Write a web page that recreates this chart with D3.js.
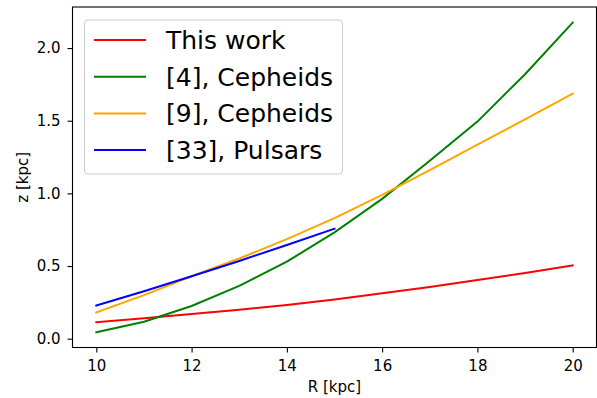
<!DOCTYPE html>
<html>
<head>
<meta charset="utf-8">
<script src="https://cdn.jsdelivr.net/npm/d3@7"></script>
<style>
  body { margin: 0; background: #fff; }
  text { font-family: "DejaVu Sans", sans-serif; fill: #000; }
</style>
</head>
<body>
<script>
// values
var R = [10, 11, 12, 13, 14, 15, 16, 17, 18, 19, 20];
var thisWork = [0.113, 0.140, 0.170, 0.200, 0.232, 0.270, 0.312, 0.355, 0.404, 0.452, 0.505];
var cepheids4 = [0.044, 0.117, 0.225, 0.363, 0.530, 0.732, 0.962, 1.225, 1.494, 1.820, 2.175];
var cepheids9 = [0.180, 0.300, 0.430, 0.552, 0.685, 0.830, 0.990, 1.160, 1.335, 1.510, 1.686];
var R33 = [10, 11, 12, 13, 14, 15];
var pulsars33 = [0.228, 0.327, 0.430, 0.535, 0.645, 0.757];

var xTicks = [10, 12, 14, 16, 18, 20];
var yTicks = [0.0, 0.5, 1.0, 1.5, 2.0];

var series = [
  {name: "This work", x: R, y: thisWork, color: "red"},
  {name: "[4], Cepheids", x: R, y: cepheids4, color: "green"},
  {name: "[9], Cepheids", x: R, y: cepheids9, color: "orange"},
  {name: "[33], Pulsars", x: R33, y: pulsars33, color: "blue"}
];

var W = 597, H = 398;
var margin = {top: 7, right: 0.5, bottom: 50.5, left: 72.5};

var svg = d3.select("body").append("svg")
    .attr("width", W)
    .attr("height", H);

var x = d3.scaleLinear()
    .domain([9.5, 20.5])
    .range([margin.left, W - margin.right]);

var y = d3.scaleLinear()
    .domain([-0.0606, 2.2825])
    .range([H - margin.bottom, margin.top]);

// lines
var line = d3.line()
    .x(function(d) { return x(d[0]); })
    .y(function(d) { return y(d[1]); });

svg.append("g").selectAll("path")
    .data(series)
    .enter().append("path")
      .attr("d", function(s) { return line(d3.zip(s.x, s.y)); })
      .attr("fill", "none")
      .attr("stroke", function(s) { return s.color; })
      .attr("stroke-width", 2)
      .attr("stroke-linejoin", "round")
      .attr("stroke-linecap", "square");

// axes
var xAxis = svg.append("g")
    .attr("transform", "translate(0," + (H - margin.bottom) + ")")
    .call(d3.axisBottom(x).tickValues(xTicks).tickSize(5).tickPadding(7.5).tickFormat(d3.format("d")));

var yAxis = svg.append("g")
    .attr("transform", "translate(" + margin.left + ",0)")
    .call(d3.axisLeft(y).tickValues(yTicks).tickSize(5).tickPadding(7).tickFormat(d3.format(".1f")));

[xAxis, yAxis].forEach(function(a) {
  a.select(".domain").remove();
  a.selectAll("line").attr("stroke", "#000").attr("stroke-width", 1.1);
  a.selectAll("text").style("font-size", "15px").style("font-family", "DejaVu Sans, sans-serif");
});

// frame
svg.append("rect")
    .attr("x", margin.left)
    .attr("y", margin.top)
    .attr("width", W - margin.right - margin.left)
    .attr("height", H - margin.bottom - margin.top)
    .attr("fill", "none")
    .attr("stroke", "#000")
    .attr("stroke-width", 1.1);

// axis labels
svg.append("text")
    .attr("x", (margin.left + W - margin.right) / 2)
    .attr("y", 391.5)
    .attr("text-anchor", "middle")
    .style("font-size", "15px")
    .text("R [kpc]");

svg.append("text")
    .attr("transform", "translate(27.5," + ((margin.top + H - margin.bottom) / 2) + ") rotate(-90)")
    .attr("text-anchor", "middle")
    .style("font-size", "15px")
    .text("z [kpc]");

// legend
var legend = svg.append("g");
legend.append("rect")
    .attr("x", 84.5)
    .attr("y", 20)
    .attr("width", 258)
    .attr("height", 154)
    .attr("rx", 4)
    .attr("fill", "#fff")
    .attr("fill-opacity", 0.8)
    .attr("stroke", "#ccc")
    .attr("stroke-width", 1.1);

var item = legend.selectAll(".item")
    .data(series)
    .enter().append("g")
      .attr("class", "item")
      .attr("transform", function(d, i) { return "translate(0," + (40 + i * 36.7) + ")"; });

item.append("line")
    .attr("x1", 94).attr("x2", 146)
    .attr("stroke", function(d) { return d.color; })
    .attr("stroke-width", 2);

item.append("text")
    .attr("x", 166)
    .attr("dy", "0.36em")
    .style("font-size", "25px")
    .text(function(d) { return d.name; });
</script>
</body>
</html>
